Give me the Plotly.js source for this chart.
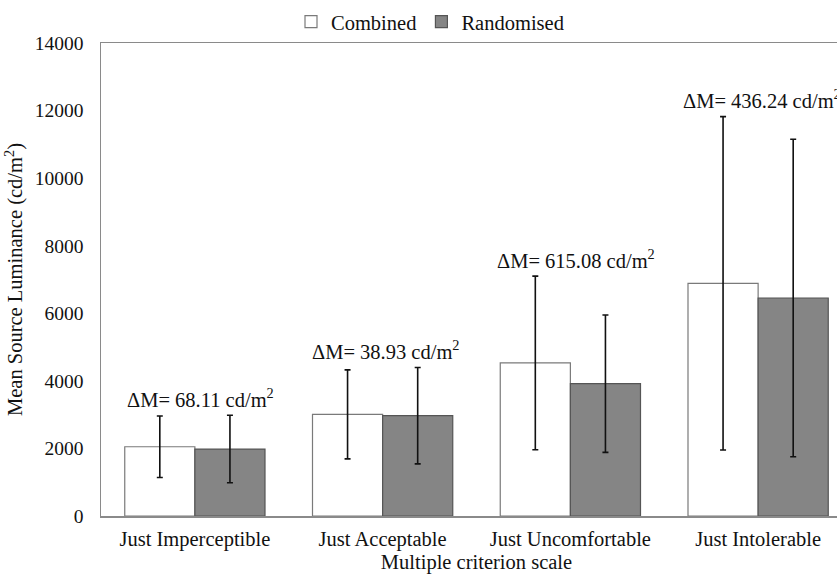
<!DOCTYPE html>
<html>
<head>
<meta charset="utf-8">
<script src="https://cdn.plot.ly/plotly-3.0.1.min.js"></script>
<style>
html, body { margin: 0; padding: 0; overflow: hidden; background: #fff; }
#chart { width: 860px; height: 575px; }
</style>
</head>
<body>
<div id="chart"></div>
<script>
var categories = ["Just Imperceptible", "Just Acceptable", "Just Uncomfortable", "Just Intolerable"];
var combinedMean = [2050, 3008, 4531, 6888];
var combinedErr = [910, 1317, 2570, 4933];
var randomisedMean = [1982, 2969, 3916, 6452];
var randomisedErr = [1000, 1425, 2032, 4697];
var deltaM = ["68.11", "38.93", "615.08", "436.24"];
var yTicks = [0, 2000, 4000, 6000, 8000, 10000, 12000, 14000];

var font = "'Liberation Serif', 'DejaVu Serif', serif";
var fs = 20.5;

var traces = [
  {
    type: "bar", name: "Combined", x: categories, y: combinedMean,
    marker: { color: "#ffffff", line: { color: "#7a7a7a", width: 1.2 } },
    error_y: { type: "data", array: combinedErr, visible: true, color: "#111111", thickness: 1.6, width: 3 }
  },
  {
    type: "bar", name: "Randomised", x: categories, y: randomisedMean,
    marker: { color: "#858585", line: { color: "#555555", width: 1.2 } },
    error_y: { type: "data", array: randomisedErr, visible: true, color: "#111111", thickness: 1.6, width: 3 }
  }
];

var annOffsets = [0.03, 0.02, 0.03, 0.02];
var annotations = categories.map(function (c, i) {
  var top = Math.max(combinedMean[i] + combinedErr[i], randomisedMean[i] + randomisedErr[i]);
  return {
    x: i + annOffsets[i], xref: "x", y: top + 520, yref: "y",
    text: "ΔM= " + deltaM[i] + " cd/m<sup>2</sup>",
    showarrow: false, font: { family: font, size: fs, color: "#111" }
  };
});

var layout = {
  width: 860, height: 575,
  margin: { l: 101, r: 8, t: 43, b: 59, autoexpand: false },
  paper_bgcolor: "#fff", plot_bgcolor: "#fff",
  barmode: "group", bargap: 0.253, bargroupgap: 0,
  font: { family: font, size: fs, color: "#111" },
  showlegend: true,
  legend: {
    orientation: "h", xref: "container", yref: "container",
    x: 0.5, xanchor: "center", y: 0.997, yanchor: "top",
    bgcolor: "rgba(0,0,0,0)",
    font: { family: font, size: fs, color: "#111" }, itemwidth: 30, traceorder: "normal"
  },
  xaxis: {
    type: "category", range: [-0.5, 3.5],
    showline: true, linecolor: "#8a8a8a", linewidth: 1.5, mirror: true,
    ticks: "", showgrid: false, zeroline: false, ticklabelstandoff: 4,
    tickfont: { family: font, size: fs, color: "#111" },
    title: { text: "Multiple criterion scale", font: { family: font, size: fs, color: "#111" }, standoff: 3 }
  },
  yaxis: {
    range: [0, 14000], tickvals: yTicks, ticktext: yTicks.map(String),
    showline: true, linecolor: "#8a8a8a", linewidth: 1.5, mirror: true,
    ticks: "", showgrid: false, zeroline: false, ticklabelstandoff: 12,
    tickfont: { family: font, size: 19.5, color: "#111" },
    title: { text: "Mean Source Luminance (cd/m<sup>2</sup>)", font: { family: font, size: fs, color: "#111" }, standoff: 6 }
  },
  annotations: annotations
};

Plotly.newPlot("chart", traces, layout, { displayModeBar: false, staticPlot: true });
</script>
</body>
</html>
